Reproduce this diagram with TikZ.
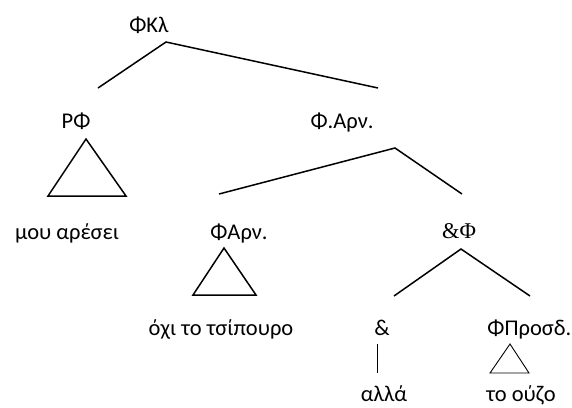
\documentclass[tikz,border=0pt]{standalone}
\usepackage{fontspec}
\setmainfont{Carlito}
\newfontfamily\serifgr{Liberation Serif}
\begin{document}
\begin{tikzpicture}[x=1bp,y=-1bp,
  lbl/.style={anchor=base,inner sep=0pt,font=\fontsize{22.5bp}{26bp}\selectfont},
  edge/.style={line width=1.5bp},
  thin/.style={line width=0.9bp},
  line join=miter]
\useasboundingbox (0,0) rectangle (572,407);

% labels
\node[lbl] (fkl) at (149,32) {ΦΚλ};
\node[lbl] (rf) at (76,128) {ΡΦ};
\node[lbl] (mou) at (67,239) {μου αρέσει};
\node[lbl] (farn1) at (342,128) {Φ.Αρν.};
\node[lbl] (farn2) at (239,239) {ΦΑρν.};
\node[lbl] (okhi) at (221,335) {όχι το τσίπουρο};
\node[lbl,font=\serifgr\fontsize{22.5bp}{26bp}\selectfont] (conjp) at (459,238) {\&Φ};
\node[lbl] (amp) at (382,335) {\&};
\node[lbl,anchor=base east] (fpros) at (571.5,335) {ΦΠροσδ.};
\node[lbl] (alla) at (384,401) {αλλά};
\node[lbl] (ouzo) at (521,401) {το ούζο};

% branch points
\coordinate (fklA) at (166,42);
\coordinate (fklL) at (98,88);
\coordinate (fklR) at (378,88);
\coordinate (arnA) at (395,148);
\coordinate (arnL) at (219,194);
\coordinate (arnR) at (462,194);
\coordinate (cjA) at (461,249);
\coordinate (cjL) at (394,296);
\coordinate (cjR) at (530,296);
\coordinate (ampT) at (377,344);
\coordinate (ampB) at (377,373);

% branches
\draw[edge] (fklL) -- (fklA) -- (fklR);
\draw[edge] (arnL) -- (arnA) -- (arnR);
\draw[edge] (cjL) -- (cjA) -- (cjR);
\draw[thin] (ampT) -- (ampB);

% triangles
\draw[edge] (86,139) -- (126,196) -- (48,196) -- cycle;
\draw[edge] (224,248) -- (256,295) -- (193,295) -- cycle;
\draw[thin] (510,344) -- (529,373) -- (490,373) -- cycle;
\end{tikzpicture}
\end{document}
